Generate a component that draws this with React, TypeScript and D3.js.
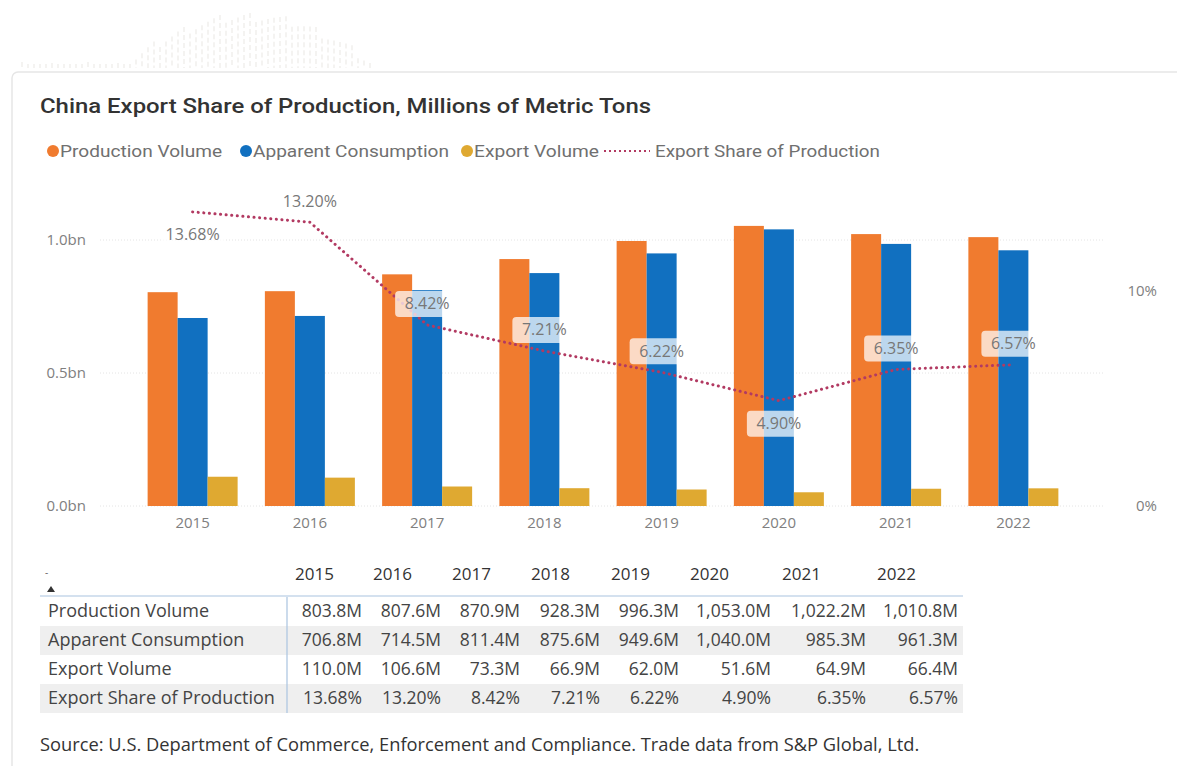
import React from "react";
import * as d3 from "d3";

const years = ["2015", "2016", "2017", "2018", "2019", "2020", "2021", "2022"];
const production = [803.8, 807.6, 870.9, 928.3, 996.3, 1053.0, 1022.2, 1010.8];
const consumption = [706.8, 714.5, 811.4, 875.6, 949.6, 1040.0, 985.3, 961.3];
const exportsVol = [110.0, 106.6, 73.3, 66.9, 62.0, 51.6, 64.9, 66.4];
const exportShare = [13.68, 13.2, 8.42, 7.21, 6.22, 4.9, 6.35, 6.57];
const leftTicks = [0, 500, 1000];
const rightTicks = [0, 10];

const seriesNames = ["Production Volume", "Apparent Consumption", "Export Volume"];
const lineName = "Export Share of Production";
const colors = ["#F07B2F", "#1170C0", "#DFA931"];
const lineColor = "#B23A62";

// layout (not data)
const labelPlacement = ["below", "above", "above", "above", "above", "below", "above", "above"];
const colWidths = [78, 79, 79, 80, 79, 92, 95, 92];
const legendLayout = [
  { x: 47, w: 162 },
  { x: 240, w: 196 },
  { x: 461, w: 125 },
];

const W = 1177;
const H = 766;

export default function App() {
  const x = d3.scaleBand<string>().domain(years).range([134, 1072]).paddingInner(0).paddingOuter(0);
  const yL = d3.scaleLinear().domain([0, 1000]).range([506, 240]);
  const yR = d3.scaleLinear().domain([0, 10]).range([506, 291]);
  const groupW = 90;
  const barW = groupW / 3;

  const fmtM = (v: number) => d3.format(",.1f")(v) + "M";
  const fmtP = (v: number) => v.toFixed(2) + "%";

  const line = d3
    .line<number>()
    .x((_, i) => (x(years[i]) as number) + x.bandwidth() / 2)
    .y((d) => yR(d));

  const axisFont = "'Open Sans', 'Noto Sans', sans-serif";
  const titleFont = "Roboto, 'Noto Sans', sans-serif";

  const tableRows = [
    { name: seriesNames[0], vals: production.map(fmtM) },
    { name: seriesNames[1], vals: consumption.map(fmtM) },
    { name: seriesNames[2], vals: exportsVol.map(fmtM) },
    { name: lineName, vals: exportShare.map(fmtP) },
  ];
  const colStarts: number[] = [];
  let acc = 289;
  colWidths.forEach((w) => {
    colStarts.push(acc);
    acc += w;
  });
  const tableRight = acc;
  const rowTop = 597;
  const rowH = 29;

  // faint decorative strokes behind the card (top-left watermark)
  const deco: { x: number; y1: number }[] = [];
  for (let dx = 22; dx <= 372; dx += 6) {
    const t = (dx - 250) / 125;
    const top = t < -1 ? 62 : 12 + 50 * Math.min(1, Math.abs(t) ** 2);
    deco.push({ x: dx, y1: Math.min(64, top + ((dx * 7) % 11)) });
  }

  return (
    <svg
      width={W}
      height={H}
      style={{ position: "absolute", left: 0, top: 0, background: "#fff" }}
      fontFamily={axisFont}
    >
      {deco.map((d, i) => (
        <line key={i} x1={d.x} x2={d.x} y1={d.y1} y2={68} stroke="#d9d4cf" strokeWidth={1.2} opacity={0.45} strokeDasharray="5 3" />
      ))}
      {/* card */}
      <rect x={12} y={72} width={W} height={H} rx={6} fill="#fff" stroke="#e6e6e6" strokeWidth={1.5} />

      {/* title */}
      <text x={40} y={113} fontFamily={titleFont} fontSize={20} fontWeight={500} fill="#333" textLength={611} lengthAdjust="spacingAndGlyphs">
        China Export Share of Production, Millions of Metric Tons
      </text>

      {/* legend */}
      {legendLayout.map((it, i) => (
        <g key={i}>
          <circle cx={it.x + 6} cy={151} r={6} fill={colors[i]} />
          <text x={it.x + 13} y={157} fontFamily={titleFont} fontSize={17} fill="#707070" textLength={it.w} lengthAdjust="spacingAndGlyphs">
            {seriesNames[i]}
          </text>
        </g>
      ))}
      <line x1={604} x2={650} y1={151} y2={151} stroke={lineColor} strokeWidth={2} strokeDasharray="2 3" />
      <text x={655} y={157} fontFamily={titleFont} fontSize={17} fill="#707070" textLength={225} lengthAdjust="spacingAndGlyphs">
        {lineName}
      </text>

      {/* gridlines */}
      {leftTicks.map((t) => (
        <line key={t} x1={100} x2={1105} y1={yL(t)} y2={yL(t)} stroke="#e4e4e4" strokeDasharray="1 2" />
      ))}

      {/* left axis */}
      {leftTicks.map((t) => (
        <text key={t} x={86} y={yL(t) + 5} textAnchor="end" fontSize={15} fill="#808080">
          {d3.format(".1f")(t / 1000) + "bn"}
        </text>
      ))}
      {/* right axis */}
      {rightTicks.map((t) => (
        <text key={t} x={1157} y={yR(t) + 5} textAnchor="end" fontSize={15} fill="#808080">
          {t + "%"}
        </text>
      ))}

      {/* bars */}
      {years.map((yr, i) => {
        const cx = (x(yr) as number) + x.bandwidth() / 2;
        const x0 = cx - groupW / 2;
        const vals = [production[i], consumption[i], exportsVol[i]];
        return (
          <g key={yr}>
            {vals.map((v, j) => (
              <rect key={j} x={x0 + j * barW} y={yL(v)} width={barW} height={yL(0) - yL(v)} fill={colors[j]} />
            ))}
            <text x={cx} y={528} textAnchor="middle" fontSize={15} fill="#808080">
              {yr}
            </text>
          </g>
        );
      })}

      {/* line */}
      <path d={line(exportShare) || ""} fill="none" stroke={lineColor} strokeWidth={3} strokeDasharray="0.1 5.5" strokeLinecap="round" />

      {/* data labels */}
      {exportShare.map((v, i) => {
        const cx = (x(years[i]) as number) + x.bandwidth() / 2;
        const cy = yR(v);
        const p = labelPlacement[i];
        const ly = p === "above" ? cy - 21 : cy + 23;
        return (
          <g key={i}>
            <rect x={cx - 32} y={ly - 13} width={64} height={26} rx={4} fill="#fff" fillOpacity={0.72} />
            <text x={cx} y={ly + 5.5} textAnchor="middle" fontSize={16} fill="#777">
              {fmtP(v)}
            </text>
          </g>
        );
      })}

      {/* table */}
      <text x={45} y={576} fontSize={10} fill="#666">-</text>
      <path d="M47,592 L51,586 L55,592 Z" fill="#333" />
      {years.map((yr, i) => (
        <text key={yr} x={colStarts[i] + 6} y={580} fontSize={17} fill="#333">
          {yr}
        </text>
      ))}
      {tableRows.map((r, ri) => (
        <g key={r.name}>
          {ri % 2 === 1 && (
            <rect x={40} y={rowTop + ri * rowH} width={tableRight - 40} height={rowH} fill="#efefef" />
          )}
          <text x={48} y={rowTop + ri * rowH + 20} fontSize={18} fill="#444">
            {r.name}
          </text>
          {r.vals.map((v, ci) => (
            <text
              key={ci}
              x={colStarts[ci] + colWidths[ci] - 5}
              y={rowTop + ri * rowH + 20}
              textAnchor="end"
              fontSize={17.5}
              fill="#444"
            >
              {v}
            </text>
          ))}
        </g>
      ))}
      <line x1={40} x2={tableRight} y1={596} y2={596} stroke="#a9c3e0" strokeWidth={1.2} />
      <line x1={287} x2={287} y1={597} y2={rowTop + 4 * rowH} stroke="#a9c3e0" strokeWidth={1.2} />

      {/* source */}
      <text x={40} y={751} fontSize={18.3} fill="#333">
        Source: U.S. Department of Commerce, Enforcement and Compliance. Trade data from S&amp;P Global, Ltd.
      </text>
    </svg>
  );
}
